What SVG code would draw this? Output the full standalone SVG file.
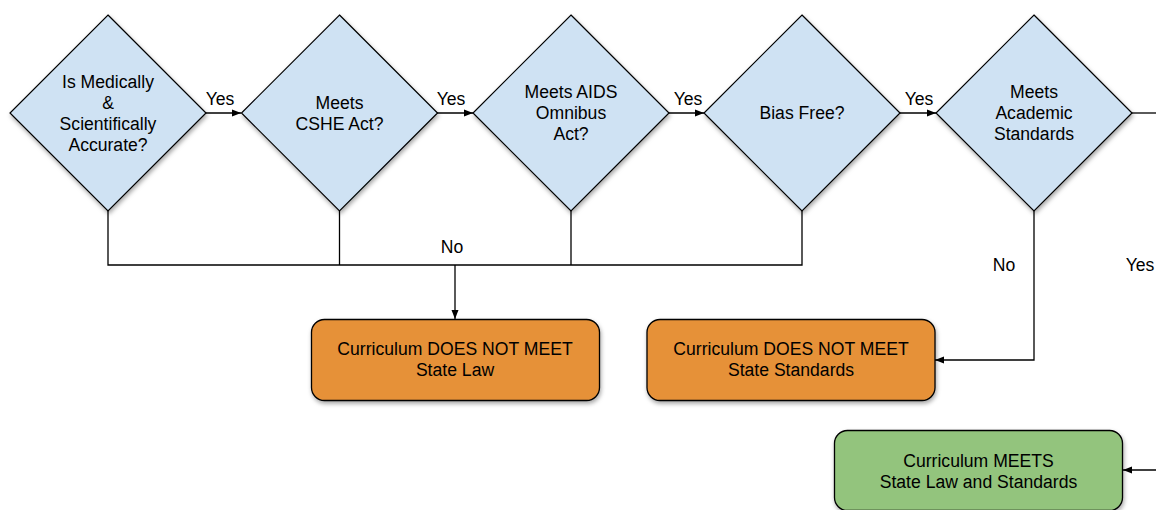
<svg xmlns="http://www.w3.org/2000/svg" width="1156" height="510" viewBox="0 0 1156 510">
<style>
.dia{fill:#cfe2f3;stroke:#000;stroke-width:1.2;filter:url(#sh)}
.box{stroke:#000;stroke-width:1.3;filter:url(#sh)}
.or{fill:#e69138}
.gr{fill:#93c47d}
text{font-family:"Liberation Sans",Arial,sans-serif;font-size:17.6px;fill:#000;text-anchor:middle}
.ln{fill:none;stroke:#000;stroke-width:1.3}
</style>
<defs>
<filter id="sh" x="-10%" y="-10%" width="130%" height="130%">
<feDropShadow dx="1" dy="2.5" stdDeviation="2" flood-color="#000" flood-opacity="0.35"/>
</filter>
<marker id="ah" markerWidth="10" markerHeight="8" refX="9" refY="4" orient="auto" markerUnits="userSpaceOnUse">
<path d="M0,0.5 L9,4 L0,7.5 Z" fill="#000"/>
</marker>
</defs>
<rect width="1156" height="510" fill="#fff"/>
<g id="connectors">
<line class="ln" x1="206" y1="113" x2="241" y2="113" marker-end="url(#ah)"/>
<line class="ln" x1="437" y1="113" x2="473" y2="113" marker-end="url(#ah)"/>
<line class="ln" x1="669" y1="113" x2="704" y2="113" marker-end="url(#ah)"/>
<line class="ln" x1="900" y1="113" x2="936" y2="113" marker-end="url(#ah)"/>
<line class="ln" x1="1131" y1="113" x2="1156" y2="113"/>
<polyline class="ln" points="108,211 108,265 802,265 802,211"/>
<line class="ln" x1="339.5" y1="211" x2="339.5" y2="265"/>
<line class="ln" x1="571" y1="211" x2="571" y2="265"/>
<line class="ln" x1="455" y1="265" x2="455" y2="319" marker-end="url(#ah)"/>
<polyline class="ln" points="1034,211 1034,360 935,360" marker-end="url(#ah)"/>
<line class="ln" x1="1156" y1="470" x2="1123" y2="470" marker-end="url(#ah)"/>
<text x="220" y="105">Yes</text>
<text x="451" y="105">Yes</text>
<text x="688" y="105">Yes</text>
<text x="919" y="105">Yes</text>
<text x="452" y="253">No</text>
<text x="1004" y="271">No</text>
<text x="1140" y="271">Yes</text>
</g>
<g id="d1">
<polygon class="dia" points="108,15 206,113 108,211 10,113"/>
<text x="108" y="88">Is Medically</text>
<text x="108" y="109">&amp;</text>
<text x="108" y="130">Scientifically</text>
<text x="108" y="151">Accurate?</text>
</g>
<g id="d2">
<polygon class="dia" points="339.5,15 437.5,113 339.5,211 241.5,113"/>
<text x="339.5" y="109">Meets</text>
<text x="339.5" y="130">CSHE Act?</text>
</g>
<g id="d3">
<polygon class="dia" points="571,15 669,113 571,211 473,113"/>
<text x="571" y="98">Meets AIDS</text>
<text x="571" y="119">Omnibus</text>
<text x="571" y="140">Act?</text>
</g>
<g id="d4">
<polygon class="dia" points="802,15 900,113 802,211 704,113"/>
<text x="802" y="119">Bias Free?</text>
</g>
<g id="d5">
<polygon class="dia" points="1034,15 1132,113 1034,211 936,113"/>
<text x="1034" y="98">Meets</text>
<text x="1034" y="119">Academic</text>
<text x="1034" y="140">Standards</text>
</g>
<g id="b1">
<rect class="box or" x="311.5" y="319.5" width="288" height="81" rx="13"/>
<text x="455" y="355">Curriculum DOES NOT MEET</text>
<text x="455" y="376">State Law</text>
</g>
<g id="b2">
<rect class="box or" x="647" y="319.5" width="288" height="81" rx="13"/>
<text x="791" y="355">Curriculum DOES NOT MEET</text>
<text x="791" y="376">State Standards</text>
</g>
<g id="b3">
<rect class="box gr" x="834.5" y="430.5" width="288" height="80" rx="13"/>
<text x="978.5" y="467">Curriculum MEETS</text>
<text x="978.5" y="488">State Law and Standards</text>
</g>
</svg>
